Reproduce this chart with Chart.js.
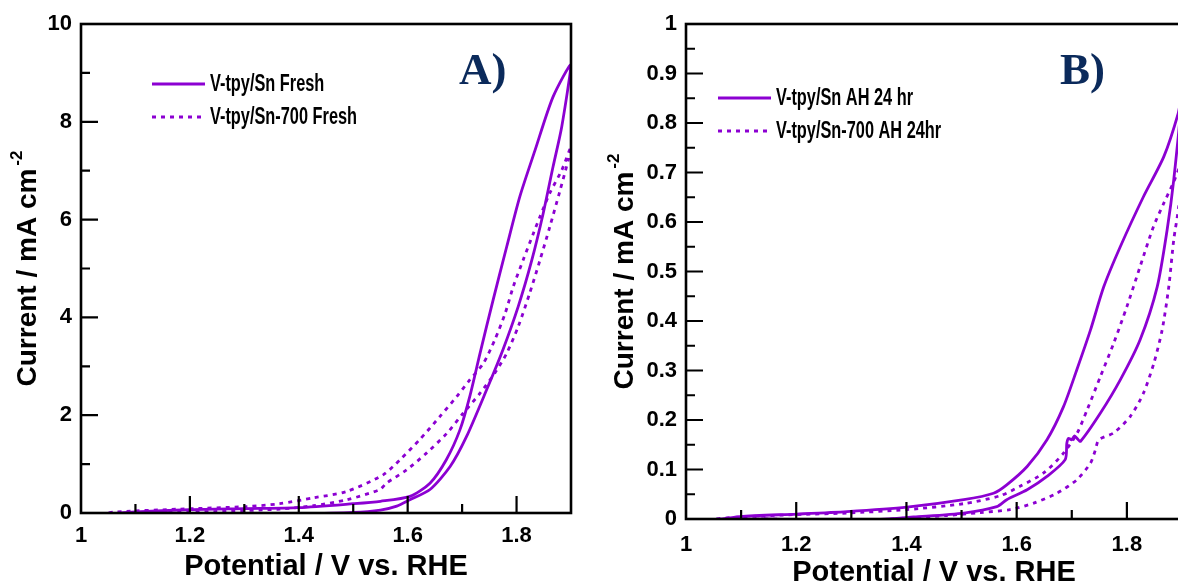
<!DOCTYPE html>
<html>
<head>
<meta charset="utf-8">
<script src="https://cdn.jsdelivr.net/npm/chart.js@4.4.1/dist/chart.umd.min.js"></script>
<style>
  html, body { margin:0; padding:0; background:#fff; overflow:hidden; width:1178px; height:584px; }
  canvas { position:absolute; top:0; }
  #chartA { left:0; }
  #chartB { left:590px; }
</style>
</head>
<body>
<canvas id="chartA" width="590" height="584"></canvas>
<canvas id="chartB" width="600" height="584"></canvas>
<script>
// ---- data ----
// panel A : fresh electrodes
const freshSnX = [1.040,1.10,1.20,1.30,1.40,1.50,1.55,1.58,1.604,1.641,1.678,1.708,1.745,1.775,1.803,1.828,1.849,1.867,1.883,1.900,
                  1.867,1.834,1.806,1.782,1.757,1.733,1.714,1.696,1.671,1.641,1.604,1.55,1.50,1.40,1.30,1.20,1.10,1.05,1.040];
const freshSnY = [-0.07,-0.06,-0.04,-0.03,-0.02,0.01,0.06,0.14,0.27,0.48,0.95,1.56,2.52,3.34,4.22,5.17,6.13,7.08,7.90,9.16,
                  8.51,7.42,6.47,5.45,4.36,3.27,2.38,1.70,1.09,0.61,0.34,0.24,0.19,0.11,0.09,0.07,0.02,-0.03,-0.07];
const fresh700X = [1.045,1.059,1.15,1.243,1.365,1.427,1.488,1.549,1.561,1.598,1.635,1.672,1.702,1.733,1.760,1.782,1.803,1.824,1.843,1.861,1.880,1.895,1.900,
                   1.883,1.861,1.843,1.831,1.812,1.794,1.779,1.760,1.739,1.714,1.690,1.659,1.622,1.586,1.555,1.488,1.427,1.365,1.304,1.182,1.059,1.045];
const fresh700Y = [-0.01,-0.01,0.01,0.03,0.08,0.15,0.27,0.48,0.61,0.88,1.23,1.63,2.04,2.45,2.86,3.27,3.81,4.49,5.17,5.85,6.60,7.22,7.49,
                   7.01,6.54,6.06,5.72,5.17,4.63,4.08,3.54,3.06,2.72,2.38,1.97,1.50,1.09,0.78,0.44,0.31,0.19,0.13,0.08,0.02,-0.01];

// panel B : after 24 hr
const ahSnX = [1.044,1.141,1.231,1.292,1.352,1.413,1.504,1.564,1.582,1.619,1.655,1.688,1.691,1.694,1.700,1.705,1.711,1.716,1.752,1.788,1.824,1.855,1.873,1.885,1.900,
               1.893,1.867,1.830,1.788,1.758,1.734,1.709,1.685,1.655,1.619,1.582,1.558,1.504,1.401,1.292,1.201,1.098,1.044];
const ahSnY = [-0.005,0.000,-0.003,-0.005,-0.001,0.004,0.012,0.025,0.039,0.059,0.086,0.120,0.153,0.163,0.160,0.168,0.161,0.157,0.214,0.281,0.362,0.469,0.584,0.685,0.860,
               0.819,0.732,0.651,0.550,0.469,0.382,0.301,0.227,0.160,0.106,0.069,0.052,0.039,0.024,0.015,0.010,0.005,-0.003];
const ah700X = [1.044,1.141,1.231,1.328,1.401,1.473,1.534,1.588,1.631,1.673,1.709,1.734,1.743,1.749,1.776,1.806,1.830,1.849,1.864,1.876,1.885,1.894,1.900,
                1.885,1.867,1.848,1.824,1.800,1.776,1.752,1.728,1.710,1.685,1.649,1.606,1.570,1.504,1.401,1.292,1.201,1.098,1.050];
const ah700Y = [-0.003,0.000,-0.003,-0.003,0.002,0.007,0.013,0.019,0.032,0.052,0.079,0.113,0.140,0.160,0.174,0.207,0.254,0.315,0.382,0.469,0.564,0.631,0.720,
                0.681,0.638,0.590,0.510,0.429,0.355,0.288,0.221,0.174,0.133,0.093,0.066,0.047,0.031,0.019,0.012,0.009,0.004,0.000];

// tick labels
const xTicks = [1, 1.2, 1.4, 1.6, 1.8];
const xMinor = [1.1, 1.3, 1.5, 1.7];
const yTicksA = [0, 2, 4, 6, 8, 10];
const yMinorA = [1, 3, 5, 7, 9];
const yTicksB = [0, 0.1, 0.2, 0.3, 0.4, 0.5, 0.6, 0.7, 0.8, 0.9, 1];
const yMinorB = [0.05, 0.15, 0.25, 0.35, 0.45, 0.55, 0.65, 0.75, 0.85, 0.95];

const labelsA = ['V-tpy/Sn Fresh', 'V-tpy/Sn-700 Fresh'];
const labelsB = ['V-tpy/Sn AH 24 hr', 'V-tpy/Sn-700 AH 24hr'];

const PURPLE = '#8c00d2';
const DASH = [4, 5];
const SANS = '"Liberation Sans", Arial, sans-serif';

function pts(xs, ys){ return xs.map((x,i)=>({x, y: ys[i]})); }

// frame, inward ticks, legend, titles
const decor = {
  id: 'decor',
  afterDraw(chart){
    const o = chart.options.plugins.decor;
    const {ctx, chartArea: a, scales:{x, y}} = chart;
    ctx.save();
    ctx.strokeStyle = '#000';
    ctx.lineWidth = 2.6;
    ctx.strokeRect(a.left, a.top, a.right - a.left, a.bottom - a.top);
    ctx.lineWidth = 2.2;
    ctx.beginPath();
    const tick = (v, len, horiz) => {
      if(horiz){ const p = x.getPixelForValue(v); ctx.moveTo(p, a.bottom); ctx.lineTo(p, a.bottom - len); }
      else { const p = y.getPixelForValue(v); ctx.moveTo(a.left, p); ctx.lineTo(a.left + len, p); }
    };
    o.xMajor.forEach(v=>tick(v, 17, true));
    o.xMinor.forEach(v=>tick(v, 9, true));
    o.yMajor.forEach(v=>tick(v, 17, false));
    o.yMinor.forEach(v=>tick(v, 9, false));
    ctx.stroke();

    // legend (narrow bold text, like Arial Narrow)
    chart.data.datasets.forEach((ds, i)=>{
      const ly = o.legendY + i * 33;
      ctx.strokeStyle = ds.borderColor;
      ctx.lineWidth = 2.8;
      ctx.setLineDash(ds.borderDash || []);
      ctx.beginPath(); ctx.moveTo(o.legendX, ly); ctx.lineTo(o.legendX + 53, ly); ctx.stroke();
      ctx.setLineDash([]);
      ctx.save();
      ctx.translate(o.legendX + 58, ly + 1);
      ctx.scale(0.71, 1);
      ctx.fillStyle = '#000';
      ctx.font = 'bold 23px ' + SANS;
      ctx.textBaseline = 'middle';
      ctx.textAlign = 'left';
      ctx.fillText(ds.label, 0, 0);
      ctx.restore();
    });

    // panel letter
    ctx.fillStyle = '#0b2a5b';
    ctx.font = 'bold 45px "Liberation Serif", "Times New Roman", serif';
    ctx.textBaseline = 'alphabetic';
    ctx.textAlign = 'left';
    ctx.fillText(o.letter, o.letterX, 84);

    // x title
    ctx.fillStyle = '#000';
    ctx.font = 'bold 29px ' + SANS;
    ctx.textAlign = 'center';
    ctx.fillText('Potential / V vs. RHE', (a.left + a.right) / 2, o.xTitleY);

    // y title with superscript
    const main = 'Current / mA cm';
    ctx.font = 'bold 28px ' + SANS;
    const wMain = ctx.measureText(main).width;
    ctx.font = 'bold 17px ' + SANS;
    const wSup = ctx.measureText('-2').width;
    ctx.translate(o.yTitleX, (a.top + a.bottom) / 2);
    ctx.rotate(-Math.PI / 2);
    ctx.textAlign = 'left';
    ctx.textBaseline = 'middle';
    const start = -(wMain + wSup + 3) / 2;
    ctx.font = 'bold 28px ' + SANS;
    ctx.fillText(main, start, 0);
    ctx.font = 'bold 17px ' + SANS;
    ctx.fillText('-2', start + wMain + 3, -11);
    ctx.restore();
  }
};

function makePanel(id, c){
  const tickFont = { family: SANS, weight: 'bold', size: 22 };
  return new Chart(document.getElementById(id), {
    type: 'scatter',
    data: { datasets: [
      { label: c.labels[0], data: pts(c.s1x, c.s1y), borderColor: PURPLE, borderWidth: 2.8, showLine: true, pointRadius: 0, tension: 0.25 },
      { label: c.labels[1], data: pts(c.s2x, c.s2y), borderColor: PURPLE, borderWidth: 2.8, borderDash: DASH, showLine: true, pointRadius: 0, tension: 0.25 }
    ]},
    options: {
      responsive: false, animation: false, devicePixelRatio: 1,
      layout: { padding: { left: 0, top: 24, right: c.padRight, bottom: 0 } },
      plugins: {
        legend: { display: false }, tooltip: { enabled: false },
        decor: { xMajor: xTicks.slice(1), xMinor, yMajor: c.yTicks.slice(1, -1), yMinor: c.yMinor,
                 legendX: c.legendX, legendY: c.legendY, letter: c.letter, letterX: c.letterX,
                 xTitleY: c.xTitleY, yTitleX: c.yTitleX }
      },
      scales: {
        x: {
          type: 'linear', min: 1, max: 1.9,
          grid: { display: false }, border: { display: false },
          afterBuildTicks: s => { s.ticks = xTicks.map(v=>({value: v})); },
          ticks: { font: tickFont, color: '#000', padding: c.xPad, maxRotation: 0, callback: v => String(v) },
          afterFit: s => { s.height = c.xHeight; }
        },
        y: {
          type: 'linear', min: 0, max: c.yMax,
          grid: { display: false }, border: { display: false },
          afterBuildTicks: s => { s.ticks = c.yTicks.map(v=>({value: v})); },
          ticks: { font: tickFont, color: '#000', padding: c.yPad, callback: v => String(v) },
          afterFit: s => { s.width = c.yWidth; }
        }
      }
    },
    plugins: [decor]
  });
}

let chartA, chartB;
chartA = makePanel('chartA', {
  labels: labelsA, s1x: freshSnX, s1y: freshSnY, s2x: fresh700X, s2y: fresh700Y,
  yMax: 10, yTicks: yTicksA, yMinor: yMinorA,
  yWidth: 81, xHeight: 71, padRight: 19, xPad: 2, yPad: 1,
  legendX: 152, legendY: 84, letter: 'A)', letterX: 459, xTitleY: 575, yTitleX: 28
});
chartB = makePanel('chartB', {
  labels: labelsB, s1x: ahSnX, s1y: ahSnY, s2x: ah700X, s2y: ah700Y,
  yMax: 1, yTicks: yTicksB, yMinor: yMinorB,
  yWidth: 96, xHeight: 65, padRight: 8, xPad: 5, yPad: 1,
  legendX: 128, legendY: 98, letter: 'B)', letterX: 470, xTitleY: 581, yTitleX: 35
});
</script>
</body>
</html>
